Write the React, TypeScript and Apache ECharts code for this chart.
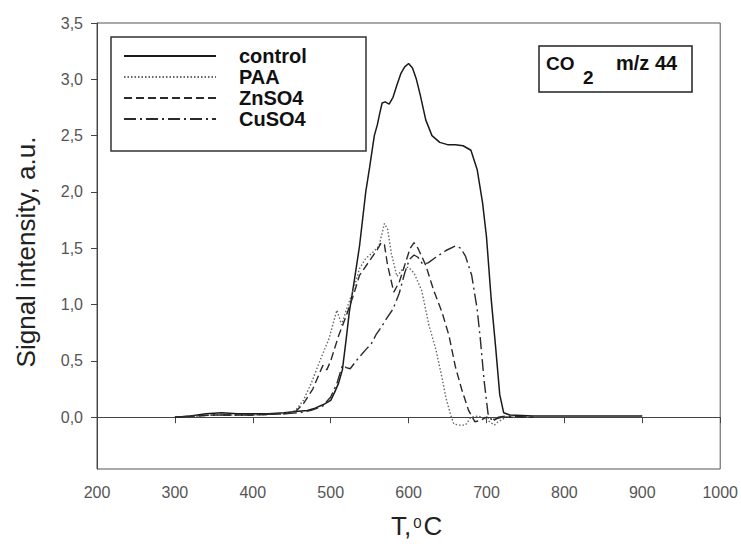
import React, { useEffect, useRef } from "react";
import * as echarts from "echarts";

const seriesNames = ["control", "PAA", "ZnSO4", "CuSO4"];
const yTickValues = [0, 0.5, 1.0, 1.5, 2.0, 2.5, 3.0, 3.5];

const controlT = [300, 320, 340, 360, 380, 400, 420, 440, 455, 470, 480, 490, 500, 505, 510, 515, 520, 524, 530, 537, 545, 550, 556, 560, 563, 566, 570, 575, 580, 585, 590, 595, 600, 605, 610, 615, 622, 630, 640, 650, 660, 670, 680, 688, 695, 700, 706, 712, 717, 722, 730, 760, 800, 850, 900];
const controlV = [0.0, 0.01, 0.03, 0.04, 0.03, 0.03, 0.03, 0.04, 0.05, 0.06, 0.08, 0.11, 0.15, 0.22, 0.3, 0.42, 0.7, 0.94, 1.2, 1.52, 2.0, 2.22, 2.5, 2.6, 2.7, 2.79, 2.8, 2.78, 2.84, 2.95, 3.05, 3.11, 3.14, 3.1, 3.0, 2.86, 2.64, 2.5, 2.44, 2.42, 2.42, 2.41, 2.37, 2.2, 1.9, 1.6, 1.05, 0.6, 0.2, 0.04, 0.02, 0.01, 0.01, 0.01, 0.01];

const paaT = [300, 350, 400, 440, 455, 465, 475, 485, 492, 498, 505, 508, 514, 520, 530, 537, 545, 552, 562, 569, 573, 578, 585, 594, 600, 607, 617, 626, 635, 642, 648, 654, 658, 665, 673, 680, 690, 700, 710, 715, 725, 760];
const paaV = [0.0, 0.02, 0.02, 0.03, 0.06, 0.15, 0.3, 0.48, 0.6, 0.7, 0.88, 0.95, 0.82, 0.95, 1.15, 1.32, 1.41, 1.45, 1.52, 1.72, 1.67, 1.45, 1.25, 1.33, 1.33, 1.28, 1.12, 0.82, 0.6, 0.38, 0.17, 0.02, -0.06, -0.07, -0.07, 0.0, 0.01, -0.02, -0.07, -0.04, 0.0, 0.0];

const znT = [300, 350, 400, 440, 455, 465, 477, 485, 490, 495, 500, 510, 520, 530, 537, 549, 560, 565, 569, 573, 581, 588, 595, 602, 607, 612, 622, 632, 643, 652, 660, 668, 677, 685, 692, 700, 710, 720, 760];
const znV = [0.0, 0.02, 0.02, 0.03, 0.05, 0.12, 0.25, 0.38, 0.46, 0.42, 0.5, 0.72, 0.9, 1.1, 1.26, 1.38, 1.49, 1.55, 1.53, 1.35, 1.11, 1.2, 1.35, 1.5, 1.55, 1.5, 1.35, 1.13, 0.93, 0.72, 0.45, 0.25, 0.06, -0.04, -0.03, 0.0, -0.02, 0.0, 0.0];

const cuT = [300, 350, 400, 440, 460, 475, 490, 500, 508, 515, 520, 525, 535, 545, 552, 558, 565, 572, 580, 588, 595, 601, 607, 612, 618, 625, 635, 648, 660, 667, 673, 681, 688, 692, 697, 702, 708, 715, 725, 760];
const cuV = [0.0, 0.02, 0.02, 0.03, 0.04, 0.06, 0.1, 0.18, 0.3, 0.46, 0.44, 0.43, 0.52, 0.6, 0.65, 0.73, 0.8, 0.88, 0.96, 1.1, 1.28, 1.4, 1.44, 1.42, 1.36, 1.37, 1.42, 1.48, 1.52, 1.5, 1.43, 1.26, 0.96, 0.7, 0.32, 0.03, -0.04, 0.0, 0.01, 0.0];

const pairs = (t: number[], v: number[]) => t.map((x, i) => [x, v[i]]);

export default function App() {
  const ref = useRef<HTMLDivElement>(null);
  useEffect(() => {
    document.body.style.margin = "0";
    const chart = echarts.init(ref.current!, null, { renderer: "svg" });
    const font = "'Liberation Sans', Arial, sans-serif";
    const axisColor = "#444";
    const labelColor = "#555";
    const mk = (name: string, t: number[], v: number[], color: string, width: number, type: any) => ({
      name,
      type: "line",
      data: pairs(t, v),
      symbol: "none",
      showSymbol: false,
      smooth: false,
      itemStyle: { color },
      lineStyle: { color, width, type },
    });
    chart.setOption({
      animation: false,
      backgroundColor: "#ffffff",
      grid: { left: 97, right: 19, top: 23, bottom: 73, show: true, borderColor: "#555", borderWidth: 1 },
      xAxis: {
        type: "value",
        min: 200,
        max: 1000,
        interval: 100,
        axisLine: { show: true, lineStyle: { color: axisColor, width: 1 } },
        axisTick: { show: true, inside: false, length: 6, lineStyle: { color: axisColor } },
        axisLabel: { color: labelColor, fontSize: 16, fontFamily: font, margin: 15, formatter: (v: number) => String(v) },
        splitLine: { show: false },
        name: "{a|T,}{s|0}{a|C}",
        nameLocation: "middle",
        nameGap: 44,
        nameTextStyle: {
          padding: [0, 0, 0, 16],
          rich: {
            a: { fontSize: 26, fontFamily: font, color: "#222" },
            s: { fontSize: 15, fontFamily: font, color: "#222", verticalAlign: "top", padding: [2, 2, 0, 2] },
          },
        },
      },
      yAxis: {
        type: "value",
        min: -0.46,
        max: 3.5,
        axisLine: { show: true, lineStyle: { color: axisColor, width: 1 } },
        axisTick: { show: true, inside: false, length: 6, customValues: yTickValues, lineStyle: { color: axisColor } },
        axisLabel: {
          customValues: yTickValues,
          color: labelColor,
          fontSize: 16,
          fontFamily: font,
          margin: 14,
          formatter: (v: number) => v.toFixed(1).replace(".", ","),
        },
        splitLine: { show: false },
        name: "Signal intensity, a.u.",
        nameLocation: "middle",
        nameRotate: 90,
        nameGap: 58,
        nameTextStyle: { fontSize: 26, fontFamily: font, color: "#222", padding: [0, 12, 0, 0] },
      },
      legend: {
        orient: "vertical",
        left: 123,
        top: 46,
        padding: 0,
        itemWidth: 92,
        itemHeight: 14,
        itemGap: 1,
        data: seriesNames,
        itemStyle: { opacity: 0, borderWidth: 0 },
        textStyle: { fontSize: 20, fontWeight: "bold", fontFamily: font, color: "#111", padding: [0, 0, 0, 18] },
      },
      graphic: [
        { type: "rect", shape: { x: 111, y: 37, width: 255, height: 114 }, style: { fill: "none", stroke: "#333", lineWidth: 1.5 } },
        { type: "rect", shape: { x: 539, y: 46, width: 153, height: 46 }, style: { fill: "none", stroke: "#222", lineWidth: 1.5 } },
        { type: "text", x: 546, y: 63, style: { text: "CO", fontSize: 19, fontWeight: "bold", fontFamily: font, fill: "#111", verticalAlign: "middle", align: "left" } },
        { type: "text", x: 583, y: 77, style: { text: "2", fontSize: 19, fontWeight: "bold", fontFamily: font, fill: "#111", verticalAlign: "middle", align: "left" } },
        { type: "text", x: 616, y: 63, style: { text: "m/z 44", fontSize: 20, fontWeight: "bold", fontFamily: font, fill: "#111", verticalAlign: "middle", align: "left" } },
      ],
      series: [
        mk("control", controlT, controlV, "#1a1a1a", 1.5, "solid"),
        mk("PAA", paaT, paaV, "#666666", 1.4, [1.5, 2]),
        mk("ZnSO4", znT, znV, "#2a2a2a", 1.4, [8, 4]),
        mk("CuSO4", cuT, cuV, "#2a2a2a", 1.4, [12, 4, 2, 4]),
      ],
    });
    return () => chart.dispose();
  }, []);
  return <div ref={ref} style={{ position: "absolute", left: 0, top: 0, width: 741, height: 544 }} />;
}
